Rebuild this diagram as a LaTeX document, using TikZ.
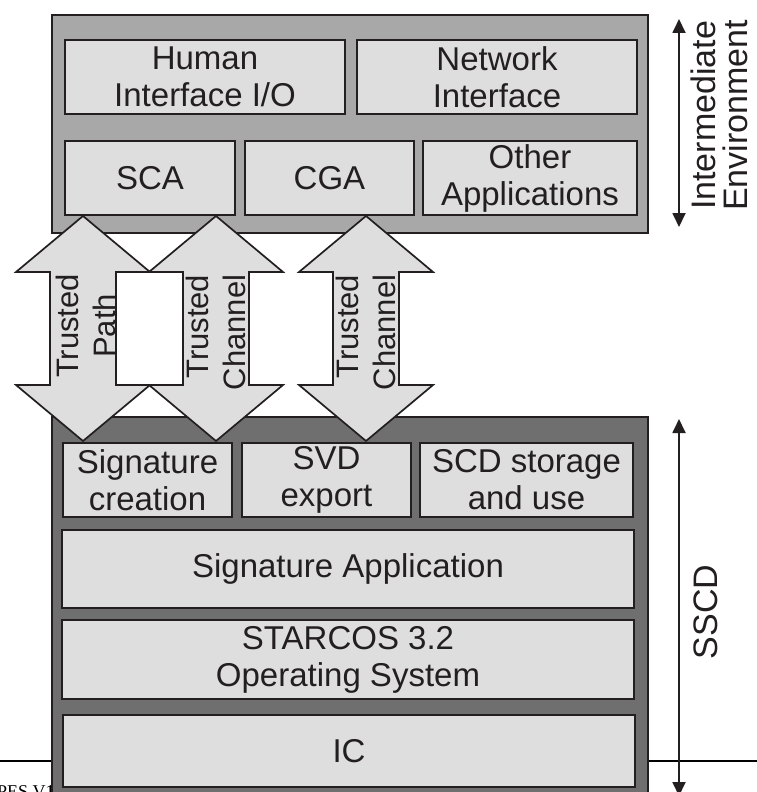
\documentclass[tikz,border=0pt]{standalone}
\usepackage{fontspec}
\setmainfont{Liberation Sans}
\newfontfamily\footserif{Liberation Serif}
\usetikzlibrary{arrows.meta}
\definecolor{ink}{HTML}{231F20}
\definecolor{midgrey}{HTML}{A8A8A8}
\definecolor{darkgrey}{HTML}{706F6F}
\definecolor{boxgrey}{HTML}{DEDEDE}
\tikzset{
  outerbox/.style={draw=ink, line width=1.5pt, inner sep=0pt},
  innerbox/.style={draw=ink, fill=boxgrey, line width=2.6pt, inner sep=0pt, align=center, text=ink, font=\fontsize{33}{37}\selectfont},
  bigarrow/.style={draw=ink, fill=boxgrey, line width=1.7pt, line join=miter},
  arrowlabel/.style={rotate=90, inner sep=0pt, text=ink, font=\fontsize{31}{37}\selectfont},
  sidearrow/.style={draw=ink, line width=1.8pt, {Triangle[width=13pt,length=14pt]}-{Triangle[width=13pt,length=14pt]}},
  sidelabel/.style={rotate=90, inner sep=0pt, text=ink, align=center, font=\fontsize{34}{32}\selectfont},
}
\begin{document}
\begin{tikzpicture}[x=1pt,y=-1pt]
\clip (0,0) rectangle (757,792);
\fill[white] (0,0) rectangle (757,792);
% page rule and footer text
\coordinate (ruleL) at (0,761);
\coordinate (ruleR) at (757,761);
\draw[black, line width=1.6pt] (ruleL) -- (ruleR);
\node[anchor=base west, inner sep=0pt, font=\footserif\fontsize{18}{20}\selectfont] (footer) at (-3,797.5) {PES V1};
% outer boxes
\node[outerbox, fill=midgrey, minimum width=596pt, minimum height=218pt] (ienv) at (350,124) {};
\node[outerbox, fill=darkgrey, minimum width=596pt, minimum height=383pt] (sscd) at (350,608.5) {};
% big double arrows
\foreach \cx in {83,216,366}{
  \draw[bigarrow] (\cx,216) -- (\cx+67,272) -- (\cx+33,272) -- (\cx+33,385) -- (\cx+67,385)
    -- (\cx,441) -- (\cx-67,385) -- (\cx-33,385) -- (\cx-33,272) -- (\cx-67,272) -- cycle;
}
% inner boxes, top
\node[innerbox, minimum width=280pt, minimum height=74pt] (hio) at (205,77) {Human\\Interface I/O};
\node[innerbox, minimum width=280pt, minimum height=74pt] (net) at (497,77) {Network\\Interface};
\node[innerbox, minimum width=170pt, minimum height=74pt] (sca) at (150,178) {SCA};
\node[innerbox, minimum width=169pt, minimum height=74pt] (cga) at (329.5,178) {CGA};
\node[innerbox, minimum width=214pt, minimum height=74pt] (oth) at (530,178) {Other\\Applications};
% inner boxes, bottom
\node[innerbox, minimum width=169pt, minimum height=74pt] (sigc) at (147.5,480) {Signature\\creation};
\node[innerbox, minimum width=169pt, minimum height=74pt] (svd) at (326.5,480) {SVD\\export};
\node[innerbox, minimum width=213pt, minimum height=74pt] (scd) at (526.5,480) {SCD storage\\and use};
\node[innerbox, minimum width=572pt, minimum height=78pt] (sapp) at (348,569) {Signature Application};
\node[innerbox, minimum width=572pt, minimum height=79pt] (os) at (348,659.5) {STARCOS 3.2\\Operating System};
\node[innerbox, minimum width=572pt, minimum height=72pt] (ic) at (349,751) {IC};
% arrow labels
\node[arrowlabel, align=center] (tp) at (86,326) {Trusted\\Path};
\node[arrowlabel, align=right] (tc1) at (215.5,332.5) {Trusted\\Channel};
\node[arrowlabel, align=right] (tc2) at (366,332.5) {Trusted\\Channel};
% side arrows and labels
\coordinate (ietop) at (679,19);
\coordinate (iebot) at (679,227);
\draw[sidearrow] (ietop) -- (iebot);
\node[sidelabel] (ielab) at (719.5,115.5) {Intermediate\\Environment};
\coordinate (sctop) at (679,419);
\coordinate (scbot) at (679,796);
\draw[sidearrow] (sctop) -- (scbot);
\node[sidelabel] (sclab) at (705.5,612) {SSCD};
\end{tikzpicture}
\end{document}
